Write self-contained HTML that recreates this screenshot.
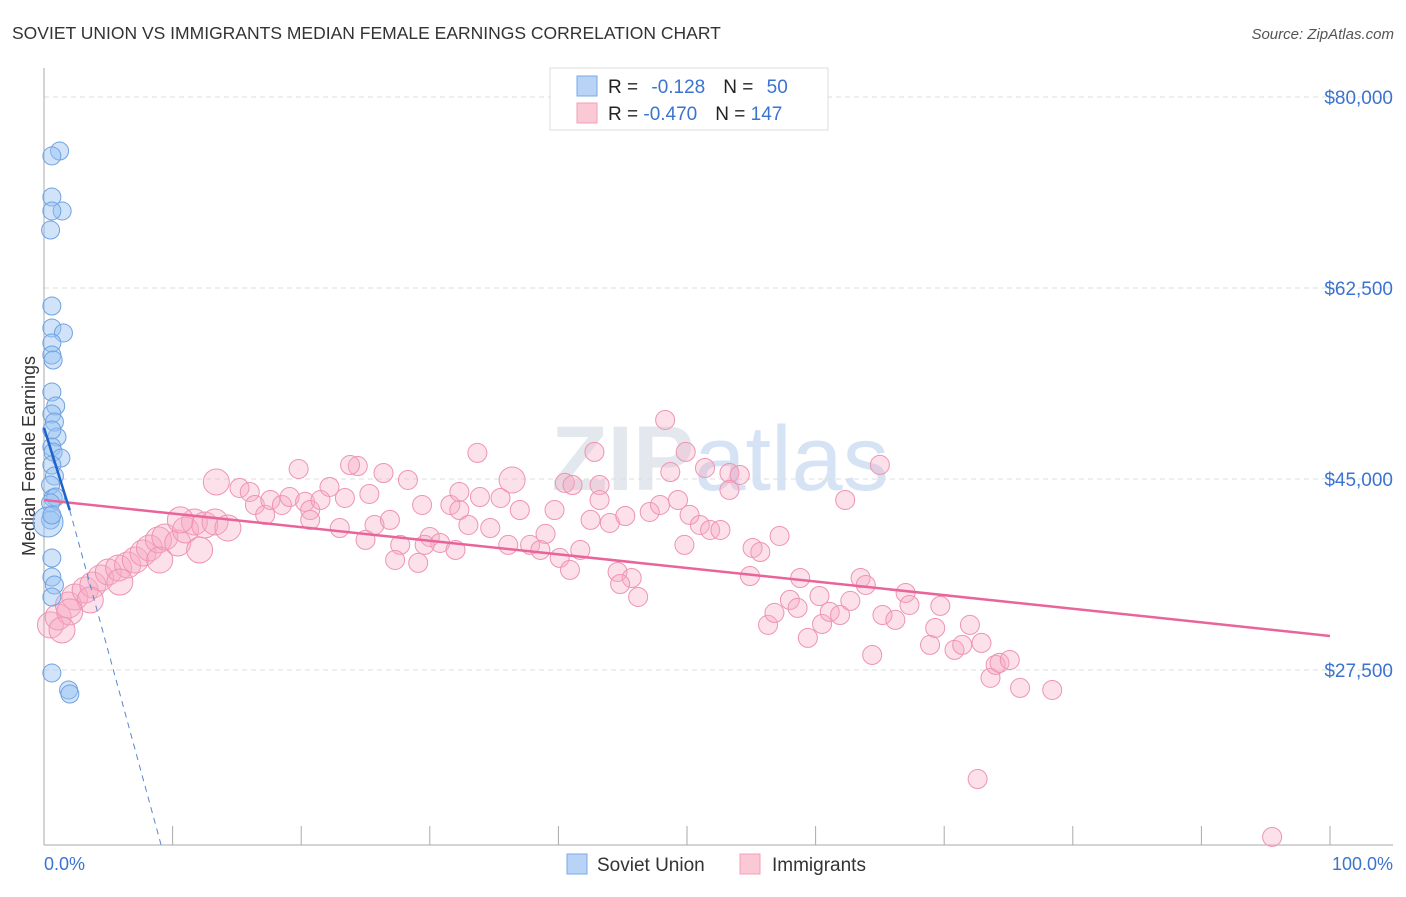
<!DOCTYPE html>
<html><head><meta charset="utf-8"><style>
body{margin:0;background:#fff;font-family:"Liberation Sans",sans-serif;}
svg text{font-family:"Liberation Sans",sans-serif;}
</style></head><body>
<svg id="chart" width="1406" height="892" xmlns="http://www.w3.org/2000/svg">
<text x="12" y="39" font-size="17.5" fill="#333">SOVIET UNION VS IMMIGRANTS MEDIAN FEMALE EARNINGS CORRELATION CHART</text>
<text x="1394" y="39" font-size="15" fill="#555" text-anchor="end" font-style="italic">Source: ZipAtlas.com</text>
<text x="720" y="490" font-size="92" fill="#e3e8ef" text-anchor="middle" font-weight="bold" font-family="Liberation Serif">ZIP<tspan fill="#d5e3f5" font-weight="normal" font-family="Liberation Sans">atlas</tspan></text>
<text transform="translate(35,456) rotate(-90)" font-size="18" fill="#333" text-anchor="middle">Median Female Earnings</text>
<g id="grid"></g><g id="marks"></g>
<g>
<rect x="550" y="68" width="278" height="62" fill="#fff" stroke="#ddd"/>
<rect x="577" y="76" width="20" height="20" fill="#b8d3f5" stroke="#7aa8e8"/>
<rect x="577" y="103" width="20" height="20" fill="#fbc8d6" stroke="#f0a0b8"/>
<text x="608" y="93" font-size="19" fill="#222">R = <tspan fill="#3b73d0" dx="8">-0.128</tspan><tspan dx="18" fill="#222">N = </tspan><tspan fill="#3b73d0" dx="8">50</tspan></text>
<text x="608" y="120" font-size="19" fill="#222">R = <tspan fill="#3b73d0">-0.470</tspan><tspan dx="18" fill="#222">N = </tspan><tspan fill="#3b73d0">147</tspan></text>
</g>
<g>
<rect x="567" y="854" width="20" height="20" fill="#b8d3f5" stroke="#7aa8e8"/>
<text x="597" y="871" font-size="19" fill="#333">Soviet Union</text>
<rect x="740" y="854" width="20" height="20" fill="#fbc8d6" stroke="#f0a0b8"/>
<text x="772" y="871" font-size="19" fill="#333">Immigrants</text>
</g>
<text x="44" y="870" font-size="18" fill="#3b73d0">0.0%</text>
<text x="1393" y="870" font-size="18" fill="#3b73d0" text-anchor="end">100.0%</text>
</svg>
<script>
const yTicks=[80000,62500,45000,27500];
const yTickLabels=["$80,000","$62,500","$45,000","$27,500"];
const xTicks=[0,10,20,30,40,50,60,70,80,90,100];
const blueX=[0.9,0.3,0.3,1.1,0.3,0.2,0.3,0.3,1.2,0.3,0.3,0.4,0.3,0.6,0.3,0.5,0.7,0.3,0.3,0.4,1.0,0.3,0.5,0.2,0.4,0.6,0.2,0.2,0.0,0.3,0.3,0.3,0.5,0.3,0.3,1.6,1.7];
const blueY=[75050,74600,70840,69560,69560,67810,60850,58840,58380,57460,56360,55900,52970,51690,50960,50220,48850,49490,47930,47470,46920,46280,45270,44450,43260,43350,42800,41240,41060,41700,37760,36020,35290,34190,27230,25670,25300];
const pinkX=[0.5,1.1,1.9,2.4,3.2,3.8,4.4,5.0,5.8,6.5,7.1,7.7,8.2,8.9,9.4,10.4,11.0,11.7,12.5,13.3,14.3,13.4,15.2,16.0,16.4,17.2,17.6,18.5,19.1,19.8,20.3,20.7,21.5,22.2,23.0,23.4,24.4,25.3,25.7,26.4,26.9,27.7,28.3,29.1,29.4,30.0,30.8,31.6,32.0,32.3,33.0,33.7,33.9,34.7,35.5,36.1,36.4,37.0,37.8,38.6,39.0,39.7,40.1,40.5,41.1,41.7,42.5,42.8,43.2,44.0,44.6,45.2,45.7,46.2,47.1,47.9,48.3,48.7,49.3,49.8,50.2,51.0,51.8,52.6,53.3,54.1,55.1,55.7,56.3,56.8,57.2,58.0,58.6,58.8,59.4,60.3,60.5,61.1,61.9,62.3,62.7,63.5,63.9,64.4,65.0,65.2,66.2,67.0,67.3,68.9,69.3,69.7,70.8,71.4,72.0,72.9,73.6,74.0,74.3,75.1,75.9,78.4,72.6,95.5,51.4,49.9,53.3,43.2,40.9,29.6,27.3,25.0,20.7,23.8,10.6,12.1,9.0,5.9,3.6,2.0,1.4,32.3,44.8,54.9];
const pinkY=[31630,32360,33460,34190,34830,35290,35930,36480,36850,37120,37580,38220,38680,39420,39690,39140,40330,41060,40790,41060,40510,44730,44180,43810,42620,41710,43080,42620,43350,45920,42900,42160,43080,44270,40510,43260,46190,43630,40790,45550,41250,38960,44910,37310,42620,39690,39140,42620,38500,42160,40790,47390,43350,40510,43260,38960,44910,42160,38960,38500,39970,42160,37770,44640,44450,38500,41250,47480,44450,40970,36480,41610,35930,34190,41980,42620,50410,45640,43080,38960,41710,40790,40330,40330,45550,45370,38680,38310,31630,32730,39780,33920,33190,35930,30440,34280,31720,32820,32540,43080,33830,35930,35290,28880,46290,32540,32090,34560,33460,29800,31350,33370,29340,29800,31630,29980,26780,27970,28150,28420,25860,25670,17510,12200,46010,47480,44000,43080,36670,38960,37580,39420,41250,46280,41250,38500,37580,35560,33920,32820,31170,43810,35380,36110];
const blueTrendX=[0,2.0],blueTrendY=[49700,42150];
const blueDashX=[2.0,9.1],blueDashY=[42150,11500];
const pinkTrendX=[0,100],pinkTrendY=[43080,30620];
const NS="http://www.w3.org/2000/svg";
const X0=44,X1=1330,Y80=97,PX=191/17500;
const sx=v=>X0+(X1-X0)*v/100;
const sy=v=>Y80+(80000-v)*PX;
function mk(tag,attrs,parent){const e=document.createElementNS(NS,tag);for(const k in attrs)e.setAttribute(k,attrs[k]);parent.appendChild(e);return e;}
const grid=document.getElementById('grid'),marks=document.getElementById('marks');
yTicks.forEach((t,i)=>{
 const l=mk('line',{x1:X0,x2:1393,y1:sy(t),y2:sy(t),stroke:'#dcdcdc','stroke-dasharray':'5,4'},grid);
 
 
 const tx=mk('text',{x:1393,y:sy(t)+7,'font-size':19,fill:'#3b73d0','text-anchor':'end'},grid);
 tx.textContent=yTickLabels[i];
 
 
});
const ax=mk('line',{x1:X0,x2:X0,y1:68,y2:845,stroke:'#aaa'},grid);


const bx=mk('line',{x1:X0,x2:1393,y1:845,y2:845,stroke:'#aaa'},grid);


xTicks.forEach(t=>{
 const l=mk('line',{x1:sx(t),x2:sx(t),y1:826,y2:845,stroke:'#aaa'},grid);
 
 
});
pinkX.forEach((v,i)=>{
 const r=v<15?13:(Math.abs(v-36.4)<0.05?13:9.5);
 const c=mk('circle',{cx:sx(v),cy:sy(pinkY[i]),r:r,fill:'rgba(246,170,195,0.35)',stroke:'#ee94b2','stroke-width':1},marks);
 
 
});
blueX.forEach((v,i)=>{
 const r=(v===0)?15:9;
 const c=mk('circle',{cx:sx(v)+4,cy:sy(blueY[i]),r:r,fill:'rgba(150,192,242,0.45)',stroke:'#6fa2e2','stroke-width':1},marks);
 
 
});
const pl=mk('line',{x1:sx(pinkTrendX[0]),y1:sy(pinkTrendY[0]),x2:sx(pinkTrendX[1]),y2:sy(pinkTrendY[1]),stroke:'#e8649a','stroke-width':2.5},marks);


const bd=mk('line',{x1:sx(blueDashX[0]),y1:sy(blueDashY[0]),x2:sx(blueDashX[1]),y2:sy(blueDashY[1]),stroke:'#5588cc','stroke-width':1,'stroke-dasharray':'6,5'},marks);


const bl=mk('line',{x1:sx(blueTrendX[0]),y1:sy(blueTrendY[0]),x2:sx(blueTrendX[1]),y2:sy(blueTrendY[1]),stroke:'#1f63c8','stroke-width':2.5},marks);


</script>
</body></html>
